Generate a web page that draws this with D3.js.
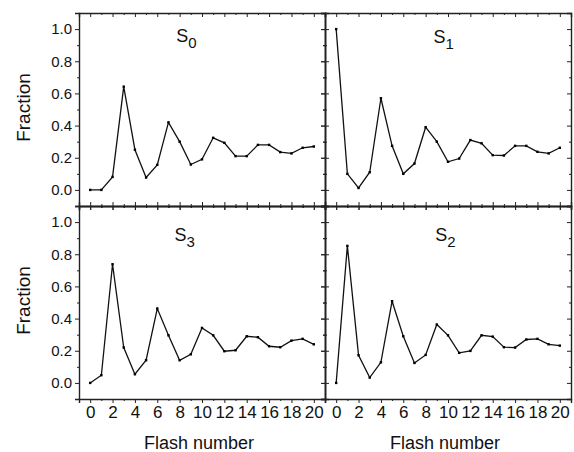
<!DOCTYPE html>
<meta charset="utf-8">
<style>
body { margin: 0; background: #fff; }
svg { display: block; }
text { font-family: Arial, "Liberation Sans", sans-serif; fill: #111; }
.axis path, .axis line { stroke: #222; }
.axis path { stroke-width: 1.4px; }
.axis line { stroke-width: 1px; }
.series { fill: none; stroke: #111; stroke-width: 1.3px; }
</style>
<svg width="574" height="452"></svg>
<script src="https://cdnjs.cloudflare.com/ajax/libs/d3/7.8.5/d3.min.js"></script>
<script>

// flash number 0..20
var flashes = d3.range(0, 21);

var s0 = [0.00, 0.00, 0.081, 0.642, 0.25, 0.077, 0.156, 0.42, 0.30, 0.158, 0.19,
          0.324, 0.293, 0.21, 0.21, 0.28, 0.28, 0.235, 0.227, 0.262, 0.27];
var s1 = [1.00, 0.10, 0.012, 0.11, 0.57, 0.274, 0.10, 0.164, 0.39, 0.30, 0.175,
          0.195, 0.31, 0.29, 0.216, 0.214, 0.274, 0.274, 0.237, 0.227, 0.262];
var s3 = [0.00, 0.048, 0.738, 0.22, 0.054, 0.141, 0.462, 0.296, 0.141, 0.178, 0.342,
          0.296, 0.197, 0.203, 0.29, 0.284, 0.228, 0.222, 0.263, 0.274, 0.24];
var s2 = [0.00, 0.852, 0.172, 0.033, 0.128, 0.508, 0.29, 0.124, 0.174, 0.363, 0.296,
          0.187, 0.199, 0.296, 0.288, 0.222, 0.22, 0.27, 0.274, 0.24, 0.232];

var subscripts = ["0", "1", "3", "2"];
var xMajor = [0, 2, 4, 6, 8, 10, 12, 14, 16, 18, 20];
var xMinor = [1, 3, 5, 7, 9, 11, 13, 15, 17, 19];
var yMajor = [0, 0.2, 0.4, 0.6, 0.8, 1.0];
var yMinor = [0.1, 0.3, 0.5, 0.7, 0.9];

var svg = d3.select("svg");

var padLeft = 79, padTop = 13, pw = 246, ph = 193;

// panel layout: col,row and where the S label goes (in data units)
var panels = [
  {data: s0, col: 0, row: 0, lx: 7.7, ly: 0.92},
  {data: s1, col: 1, row: 0, lx: 8.7, ly: 0.915},
  {data: s3, col: 0, row: 1, lx: 7.55, ly: 0.88},
  {data: s2, col: 1, row: 1, lx: 8.85, ly: 0.88}
];

var x = d3.scaleLinear().domain([-1, 21]).range([0, pw]);
var y = d3.scaleLinear().domain([-0.1, 1.1]).range([ph, 0]);

var line = d3.line()
    .x(function(d, i) { return x(flashes[i]); })
    .y(function(d) { return y(d); });

function ticks(g, axisFn, scale, major, minor, size, labels) {
  var a = axisFn(scale).tickValues(major).tickSizeOuter(0)
      .tickSize(size).tickPadding(3)
      .tickFormat(labels ? labels : "");
  g.call(a);
  var b = axisFn(scale).tickValues(minor).tickSizeOuter(0)
      .tickSize(size / 2).tickFormat("");
  g.append("g").call(b).select(".domain").remove();
}

panels.forEach(function(p, k) {
  var g = svg.append("g")
      .attr("transform", "translate(" + (padLeft + p.col * pw) + "," + (padTop + p.row * ph) + ")");

  var fx = p.row == 1 ? function(d) { return d; } : null;
  var fy = p.col == 0 ? d3.format(".1f") : null;

  // bottom: outward; shared edges get ticks on both sides
  var gb = g.append("g").attr("class", "axis").attr("transform", "translate(0," + ph + ")");
  ticks(gb, d3.axisBottom, x, xMajor, xMinor, 4, fx);
  if (p.row == 0) ticks(gb.append("g"), d3.axisBottom, x, xMajor, xMinor, -4, null);

  var gt = g.append("g").attr("class", "axis");
  ticks(gt, d3.axisTop, x, xMajor, xMinor, -4, null);

  var gl = g.append("g").attr("class", "axis");
  ticks(gl, d3.axisLeft, y, yMajor, yMinor, 4, fy);
  if (p.col == 1) ticks(gl.append("g"), d3.axisLeft, y, yMajor, yMinor, -4, null);

  var gr = g.append("g").attr("class", "axis").attr("transform", "translate(" + pw + ",0)");
  ticks(gr, d3.axisRight, y, yMajor, yMinor, -4, null);

  g.selectAll(".axis text").attr("font-size", 15).style("font-family", "Arial, 'Liberation Sans', sans-serif").attr("fill", "#111");
  gb.selectAll("text").attr("font-size", 17);

  g.append("path").datum(p.data).attr("class", "series").attr("d", line);

  g.selectAll("rect.pt").data(p.data).enter().append("rect")
      .attr("class", "pt")
      .attr("x", function(d, i) { return x(flashes[i]) - 1.2; })
      .attr("y", function(d) { return y(d) - 1.2; })
      .attr("width", 2.4).attr("height", 2.4)
      .attr("fill", "#000");

  var lab = g.append("text")
      .attr("x", x(p.lx)).attr("y", y(p.ly))
      .attr("font-size", 18);
  lab.append("tspan").text("S");
  lab.append("tspan").attr("dy", 6).attr("font-size", 15).text(subscripts[k]);

  if (p.col == 0) {
    svg.append("text")
        .attr("transform", "translate(30," + (padTop + p.row * ph + ph / 2 - 2) + ") rotate(-90)")
        .attr("text-anchor", "middle")
        .attr("font-size", 19)
        .text("Fraction");
  }
  if (p.row == 1) {
    svg.append("text")
        .attr("x", padLeft + p.col * pw + pw / 2 - 3)
        .attr("y", 449)
        .attr("text-anchor", "middle")
        .attr("font-size", 18)
        .text("Flash number");
  }
});

</script>
